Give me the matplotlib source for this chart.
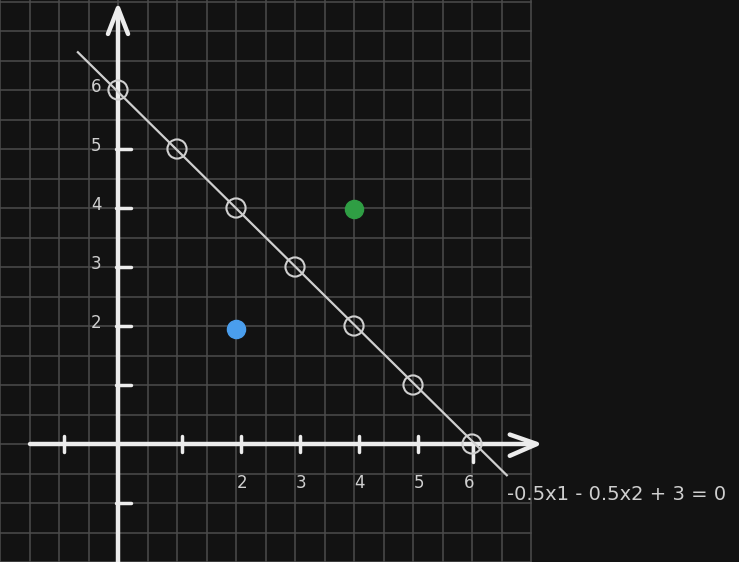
import matplotlib
matplotlib.use('Agg')
import matplotlib.pyplot as plt
import numpy as np

# points on the decision line -0.5*x1 - 0.5*x2 + 3 = 0
line_x = [0, 1, 2, 3, 4, 5, 6]
line_y = [6, 5, 4, 3, 2, 1, 0]
blue_pt = (2, 2)
green_pt = (4, 4)
x_ticks = [-1, 1, 2, 3, 4, 5, 6]
x_tick_labels = {2: '2', 3: '3', 4: '4', 5: '5', 6: '6'}
y_ticks = [-1, 1, 2, 3, 4, 5]
y_tick_labels = {2: '2', 3: '3', 4: '4', 5: '5', 6: '6'}
equation = '-0.5x1 - 0.5x2 + 3 = 0'

bg = '#121212'
grid_c = '#4c4c4c'
axis_c = '#ececec'
soft = '#cfcfcf'

fig = plt.figure(figsize=(7.39, 5.62), dpi=100)
fig.patch.set_facecolor(bg)
ax = fig.add_axes([0, 0, 1, 1])
ax.set_facecolor(bg)
ax.set_xlim(-2, 621 / 59)
ax.set_ylim(-2, 444 / 59)
ax.axis('off')

# grid (only covers the left part of the canvas)
for gx in np.arange(-2, 7.01, 0.5):
    ax.plot([gx, gx], [-2, 7.6], color=grid_c, lw=1.1, zorder=1)
for gy in np.arange(-2, 7.51, 0.5):
    ax.plot([-2, 7.0], [gy, gy], color=grid_c, lw=1.1, zorder=1)

# axes with arrows
ax.plot([-1.49, 7.08], [0, 0], color=axis_c, lw=3.2, solid_capstyle='round', zorder=3)
ax.plot([6.64, 7.1, 6.64], [0.16, 0, -0.2], color=axis_c, lw=3.2,
        solid_capstyle='round', solid_joinstyle='round', zorder=3)
ax.plot([0, 0], [-2.1, 7.37], color=axis_c, lw=3.2, solid_capstyle='round', zorder=3)
ax.plot([-0.17, 0, 0.17], [6.95, 7.39, 6.95], color=axis_c, lw=3.2,
        solid_capstyle='round', solid_joinstyle='round', zorder=3)

# ticks
for t in x_ticks:
    off = 0.02 if t == 6 else 0.09
    lo = -0.3 if t == 6 else -0.14
    hi = 0.0 if t == 6 else 0.13
    ax.plot([t + off, t + off], [lo, hi], color=axis_c, lw=2.5,
            solid_capstyle='round', zorder=3)
for t in y_ticks:
    ax.plot([-0.03, 0.22], [t, t], color=axis_c, lw=2.5,
            solid_capstyle='round', zorder=3)

# tick labels
for v, s in x_tick_labels.items():
    off = -0.05 if v == 6 else 0.1
    ax.text(v + off, -0.66, s, color=soft, fontsize=12, ha='center', va='center')
for v, s in y_tick_labels.items():
    ax.text(-0.37, v + 0.05, s, color=soft, fontsize=12, ha='center', va='center')

# decision line and its points
ax.plot([-0.68, 6.59], [6.64, -0.53], color=soft, lw=1.6, zorder=4)
ax.scatter(line_x, line_y, s=190, facecolors='none', edgecolors=soft,
           linewidths=1.5, zorder=5)

ax.scatter([blue_pt[0]], [blue_pt[1] - 0.05], s=170, color='#4a9eed', zorder=5)
ax.scatter([green_pt[0]], [green_pt[1] - 0.02], s=170, color='#2f9e44', zorder=5)

ax.text(6.59, -0.85, equation, color=soft, fontsize=14, ha='left', va='center')

fig.savefig('out.png', dpi=100, facecolor=bg)
